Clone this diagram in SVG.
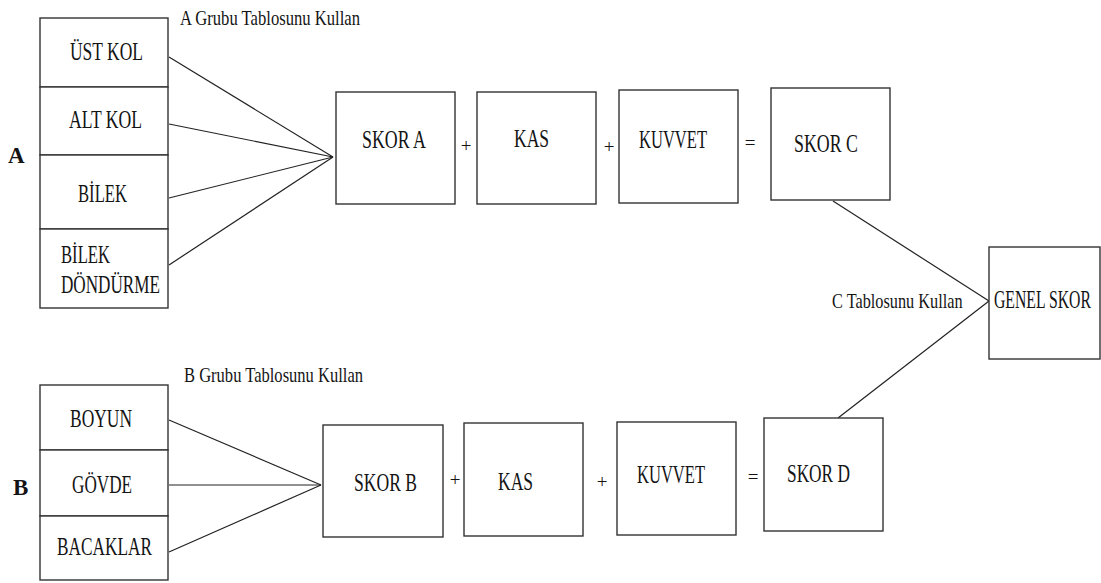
<svg xmlns="http://www.w3.org/2000/svg" width="1101" height="583" viewBox="0 0 1101 583">
<style>
.box{fill:#fff;stroke:#333;stroke-width:1.4}
.ln{fill:none;stroke:#222;stroke-width:1.2}
text{font-family:"Liberation Serif","Times New Roman","DejaVu Serif",serif;fill:#141414}
.lb{font-size:25px}
.sm{font-size:22px}
.op{font-size:19px;text-anchor:middle}
.big{font-size:23px;font-weight:bold}
</style>
<rect width="1101" height="583" fill="#fff"/>
<g id="connectors">
<line class="ln" x1="169" y1="57" x2="333" y2="157"/>
<line class="ln" x1="169" y1="124" x2="333" y2="157"/>
<line class="ln" x1="169" y1="198" x2="333" y2="157"/>
<line class="ln" x1="169" y1="265" x2="333" y2="157"/>
<line class="ln" x1="169" y1="420" x2="321" y2="485"/>
<line class="ln" x1="169" y1="485" x2="321" y2="485"/>
<line class="ln" x1="169" y1="552" x2="321" y2="485"/>
<line class="ln" x1="833" y1="201" x2="989" y2="301"/>
<line class="ln" x1="838" y1="418" x2="989" y2="301"/>
</g>
<g id="labels">
<text class="big" x="8" y="163">A</text>
<text class="big" x="13" y="495">B</text>
<text class="sm" x="180" y="25" textLength="180" lengthAdjust="spacingAndGlyphs">A Grubu Tablosunu Kullan</text>
<text class="sm" x="184" y="382" textLength="179" lengthAdjust="spacingAndGlyphs">B Grubu Tablosunu Kullan</text>
<text class="sm" transform="translate(832 308) scale(0.74 1)">C Tablosunu Kullan</text>
<text class="op" x="466" y="152">+</text>
<text class="op" x="609" y="153">+</text>
<text class="op" x="750" y="149">=</text>
<text class="op" x="455" y="486">+</text>
<text class="op" x="602" y="488">+</text>
<text class="op" x="753" y="483">=</text>
</g>
<g id="ust-kol"><rect class="box" x="40" y="18" width="128" height="69"/><text class="lb" x="70" y="60" textLength="73" lengthAdjust="spacingAndGlyphs">ÜST KOL</text></g>
<g id="alt-kol"><rect class="box" x="40" y="87" width="128" height="68"/><text class="lb" x="69" y="128" textLength="73" lengthAdjust="spacingAndGlyphs">ALT KOL</text></g>
<g id="bilek"><rect class="box" x="40" y="155" width="128" height="74"/><text class="lb" x="78" y="202" textLength="49" lengthAdjust="spacingAndGlyphs">BİLEK</text></g>
<g id="bilek-dondurme"><rect class="box" x="40" y="229" width="128" height="79"/><text class="lb" x="61" y="263" textLength="49" lengthAdjust="spacingAndGlyphs">BİLEK</text><text class="lb" x="61" y="293" textLength="99" lengthAdjust="spacingAndGlyphs">DÖNDÜRME</text></g>
<g id="skor-a"><rect class="box" x="336" y="92" width="119" height="112"/><text class="lb" x="362" y="148" textLength="64" lengthAdjust="spacingAndGlyphs">SKOR A</text></g>
<g id="kas-a"><rect class="box" x="477" y="92" width="119" height="112"/><text class="lb" x="514" y="147" textLength="35" lengthAdjust="spacingAndGlyphs">KAS</text></g>
<g id="kuvvet-a"><rect class="box" x="619" y="90" width="119" height="113"/><text class="lb" x="639" y="148" textLength="68" lengthAdjust="spacingAndGlyphs">KUVVET</text></g>
<g id="skor-c"><rect class="box" x="771" y="88" width="119" height="112"/><text class="lb" x="794" y="152" textLength="64" lengthAdjust="spacingAndGlyphs">SKOR C</text></g>
<g id="genel-skor"><rect class="box" x="989" y="247" width="111" height="112"/><text class="lb" transform="translate(994 308) scale(0.63 1)">GENEL SKOR</text></g>
<g id="boyun"><rect class="box" x="40" y="385" width="128" height="65"/><text class="lb" x="70" y="427" textLength="62" lengthAdjust="spacingAndGlyphs">BOYUN</text></g>
<g id="govde"><rect class="box" x="40" y="450" width="128" height="66"/><text class="lb" x="72" y="493" textLength="60" lengthAdjust="spacingAndGlyphs">GÖVDE</text></g>
<g id="bacaklar"><rect class="box" x="40" y="516" width="128" height="64"/><text class="lb" x="57" y="555" textLength="95" lengthAdjust="spacingAndGlyphs">BACAKLAR</text></g>
<g id="skor-b"><rect class="box" x="323" y="425" width="120" height="112"/><text class="lb" x="354" y="491" textLength="63" lengthAdjust="spacingAndGlyphs">SKOR B</text></g>
<g id="kas-b"><rect class="box" x="464" y="423" width="119" height="113"/><text class="lb" x="498" y="490" textLength="35" lengthAdjust="spacingAndGlyphs">KAS</text></g>
<g id="kuvvet-b"><rect class="box" x="617" y="422" width="119" height="113"/><text class="lb" x="637" y="483" textLength="68" lengthAdjust="spacingAndGlyphs">KUVVET</text></g>
<g id="skor-d"><rect class="box" x="764" y="418" width="119" height="113"/><text class="lb" x="787" y="482" textLength="63" lengthAdjust="spacingAndGlyphs">SKOR D</text></g>
</svg>
